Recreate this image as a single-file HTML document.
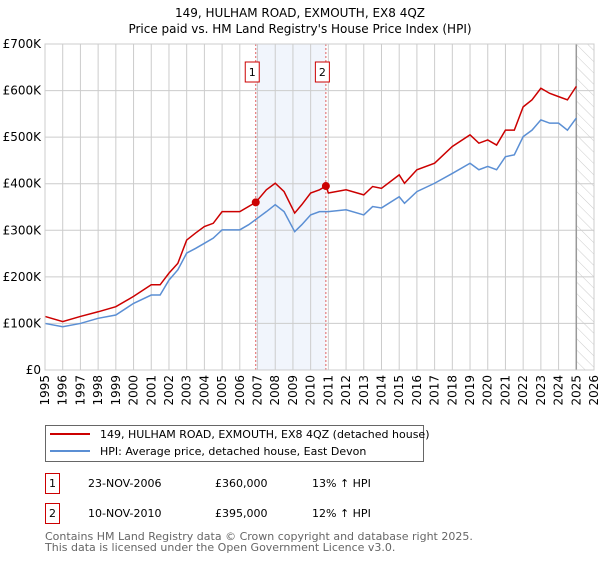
<!DOCTYPE html>
<html><head><meta charset="utf-8"><style>
body{margin:0;background:#fff;width:600px;height:560px;overflow:hidden;font-family:"DejaVu Sans","Liberation Sans",sans-serif}
svg text{font-family:"DejaVu Sans","Liberation Sans",sans-serif}
</style></head><body>
<svg id="c" width="600" height="560"></svg>
<script>
const years=[1995,1996,1997,1998,1999,2000,2001,2001.5,2002,2002.5,2003,2003.5,2004,2004.5,2005,2005.5,2006,2006.5,2007,2007.5,2008,2008.5,2009.1,2009.5,2010,2010.5,2011,2012,2013,2013.5,2014,2015,2015.3,2016,2017,2018,2019,2019.5,2020,2020.5,2021,2021.5,2022,2022.5,2023,2023.5,2024,2024.5,2025];
const hpi=[100,93,100,111,118,143,161,161,193,215,251,261,272,283,301,301,301,312,326,340,355,340,297,312,333,340,340,344,333,351,348,372,358,383,401,422,444,430,437,430,458,462,501,515,537,530,530,515,541];
const redYears=[1995,1996,1997,1998,1999,2000,2001,2001.5,2002,2002.5,2003,2003.5,2004,2004.5,2005,2005.5,2006,2006.9,2007.5,2008,2008.5,2009.1,2009.5,2010,2010.5,2010.86,2011,2012,2013,2013.5,2014,2015,2015.3,2016,2017,2018,2019,2019.5,2020,2020.5,2021,2021.5,2022,2022.5,2023,2023.5,2024,2024.5,2025];
const price=[115,104,115,125,136,158,183,183,208,229,279,294,308,315,340,340,340,360,387,401,383,337,355,380,387,395,380,387,376,394,390,419,401,430,444,480,505,487,494,483,515,515,565,580,605,594,587,580,609];
const saleYears=[2006.9,2010.86];
const salePrices=[360,395];
const yTicks=[0,100,200,300,400,500,600,700];
const xTicks=[1995,1996,1997,1998,1999,2000,2001,2002,2003,2004,2005,2006,2007,2008,2009,2010,2011,2012,2013,2014,2015,2016,2017,2018,2019,2020,2021,2022,2023,2024,2025,2026];
const L=45,R=594,T=44,B=370;
const X=y=>L+(y-1995)/31*(R-L);
const Y=v=>B-v/700*(B-T);
const s=document.getElementById('c');const NS='http://www.w3.org/2000/svg';
function el(t,a,txt){const e=document.createElementNS(NS,t);for(const k in a)e.setAttribute(k,a[k]);if(txt!==undefined)e.textContent=txt;s.appendChild(e);return e;}
let e;
e=el('text',{x:300,y:17,'text-anchor':'middle','font-size':12},'149, HULHAM ROAD, EXMOUTH, EX8 4QZ');


e=el('text',{x:300,y:33,'text-anchor':'middle','font-size':12},"Price paid vs. HM Land Registry's House Price Index (HPI)");


e=el('rect',{x:X(saleYears[0]),y:T,width:X(saleYears[1])-X(saleYears[0]),height:B-T,fill:'#eef2fb',opacity:0.8});


const defs=document.createElementNS(NS,'defs');defs.innerHTML='<pattern id="h" width="8" height="8" patternUnits="userSpaceOnUse" patternTransform="rotate(-45)"><line x1="0" y1="0" x2="0" y2="8" stroke="#ccc" stroke-width="1"/></pattern>';s.appendChild(defs);
e=el('rect',{x:X(2025),y:T,width:R-X(2025),height:B-T,fill:'url(#h)'});


yTicks.forEach(v=>{
 e=el('line',{x1:L,x2:R,y1:Y(v),y2:Y(v),stroke:'#ccc'});
 
 
 e=el('text',{x:L-4,y:Y(v)+4,'text-anchor':'end','font-size':12},v?'£'+v+'K':'£0');
 
 
});
xTicks.forEach(y=>{
 e=el('line',{x1:X(y),x2:X(y),y1:T,y2:B,stroke:'#ccc'});
 
 
 e=el('text',{x:0,y:0,'font-size':12,'text-anchor':'end',transform:`translate(${X(y)+4},${B+5}) rotate(-90)`},y);
 
 
});
e=el('line',{x1:X(2025),x2:X(2025),y1:T,y2:B,stroke:'#999','stroke-width':1.5});


saleYears.forEach((y,i)=>{
 e=el('line',{x1:X(y),x2:X(y),y1:T,y2:B,stroke:'#e06060','stroke-dasharray':'2,2'});
 
 
 e=el('rect',{x:X(y)-10.5,y:62,width:14,height:20,fill:'#fff',stroke:'#c00'});
 
 
 e=el('text',{x:X(y)-3.5,y:76,'text-anchor':'middle','font-size':11},i+1);
 
 
});
e=el('polyline',{points:years.map((y,i)=>X(y)+','+Y(hpi[i])).join(' '),fill:'none',stroke:'#5b8fd4','stroke-width':1.5});


e=el('polyline',{points:redYears.map((y,i)=>X(y)+','+Y(price[i])).join(' '),fill:'none',stroke:'#cc0000','stroke-width':1.5});


saleYears.forEach((y,i)=>{
 e=el('circle',{cx:X(y),cy:Y(salePrices[i]),r:4,fill:'#cc0000'});
 
 
});
e=el('rect',{x:L,y:T,width:R-L,height:B-T,fill:'none',stroke:'#ccc'});


e=el('rect',{x:45.5,y:425.5,width:378,height:36,fill:'#fff',stroke:'#666'});


e=el('line',{x1:50,x2:90,y1:434,y2:434,stroke:'#cc0000','stroke-width':2});


e=el('text',{x:100,y:438,'font-size':11},'149, HULHAM ROAD, EXMOUTH, EX8 4QZ (detached house)');


e=el('line',{x1:50,x2:90,y1:451,y2:451,stroke:'#5b8fd4','stroke-width':2});


e=el('text',{x:100,y:455,'font-size':11},'HPI: Average price, detached house, East Devon');


const rows=[['1','23-NOV-2006','£360,000','13% ↑ HPI'],['2','10-NOV-2010','£395,000','12% ↑ HPI']];
rows.forEach((r,i)=>{
 const cy=483+i*30;
 e=el('rect',{x:45.5,y:cy-9.5,width:14,height:20,fill:'#fff',stroke:'#c00'});
 
 
 e=el('text',{x:52.5,y:cy+4,'text-anchor':'middle','font-size':11},r[0]);
 
 
 e=el('text',{x:88,y:cy+4,'font-size':11},r[1]);
 
 
 e=el('text',{x:215,y:cy+4,'font-size':11},r[2]);
 
 
 e=el('text',{x:312,y:cy+4,'font-size':11},r[3]);
 
 
});
e=el('text',{x:45,y:540,'font-size':11,fill:'#666'},'Contains HM Land Registry data © Crown copyright and database right 2025.');


e=el('text',{x:45,y:551,'font-size':11,fill:'#666'},'This data is licensed under the Open Government Licence v3.0.');


</script>
</body></html>
